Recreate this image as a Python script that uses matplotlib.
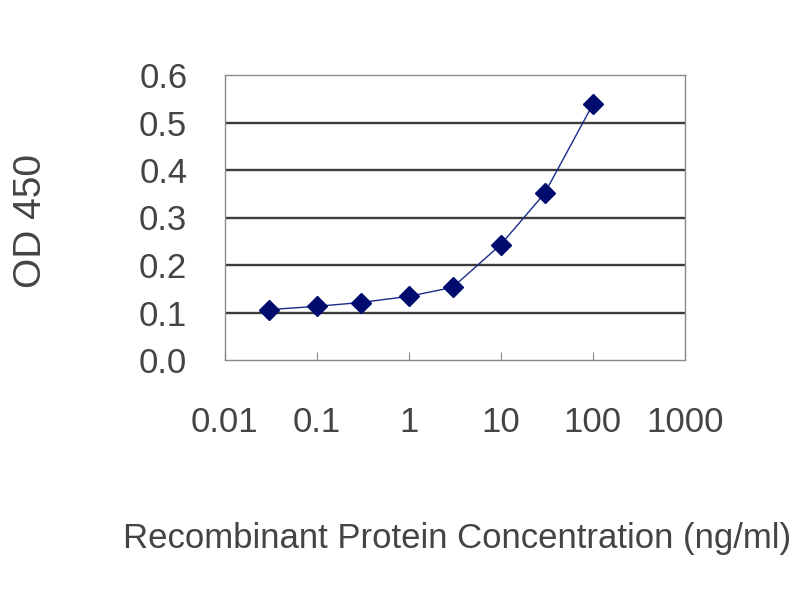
import matplotlib
matplotlib.use("Agg")
import matplotlib.pyplot as plt
from matplotlib.ticker import FixedLocator, NullLocator

conc = [0.03, 0.1, 0.3, 1, 3, 10, 30, 100]
od450 = [0.106, 0.113, 0.121, 0.134, 0.153, 0.243, 0.351, 0.538]
xticks = [0.01, 0.1, 1, 10, 100, 1000]
xticklabels = ["0.01", "0.1", "1", "10", "100", "1000"]
yticks = [0.0, 0.1, 0.2, 0.3, 0.4, 0.5, 0.6]
yticklabels = ["0.0", "0.1", "0.2", "0.3", "0.4", "0.5", "0.6"]

plt.rcParams['font.family'] = ['Liberation Sans', 'DejaVu Sans']
txt = '#444444'

fig = plt.figure(figsize=(8, 6), dpi=100)
ax = fig.add_axes([0.281, 0.40, 0.575, 0.475])
ax.set_xscale('log')
ax.set_xlim(0.01, 1000)
ax.set_ylim(0, 0.6)

for y in yticks[1:-1]:
    ax.axhline(y, color='#3c3c3c', lw=1.7, zorder=1)

ax.plot(conc, od450, color='#1a2a8a', lw=1.0, zorder=2)
ax.plot(conc, od450, linestyle='none', marker='D', markersize=10,
        color='#000b6e', zorder=3)

for s in ax.spines.values():
    s.set_color('#8a8a8a')
    s.set_linewidth(1.0)

ax.xaxis.set_major_locator(FixedLocator(xticks))
ax.xaxis.set_minor_locator(NullLocator())
ax.set_xticklabels(xticklabels)
ax.yaxis.set_major_locator(FixedLocator(yticks))
ax.set_yticklabels(yticklabels)

ax.tick_params(axis='x', direction='in', length=6, color='#8a8a8a',
               labelsize=25, labelcolor=txt, pad=33)
ax.tick_params(axis='y', length=0, labelsize=25, labelcolor=txt, pad=27)

fig.text(0.571, 0.103, 'Recombinant Protein Concentration (ng/ml)',
         ha='center', va='center', fontsize=25, color=txt)
fig.text(0.039, 0.632, 'OD 450', rotation=90, ha='center', va='center',
         fontsize=28, color=txt)

fig.savefig('out.png', dpi=100)
